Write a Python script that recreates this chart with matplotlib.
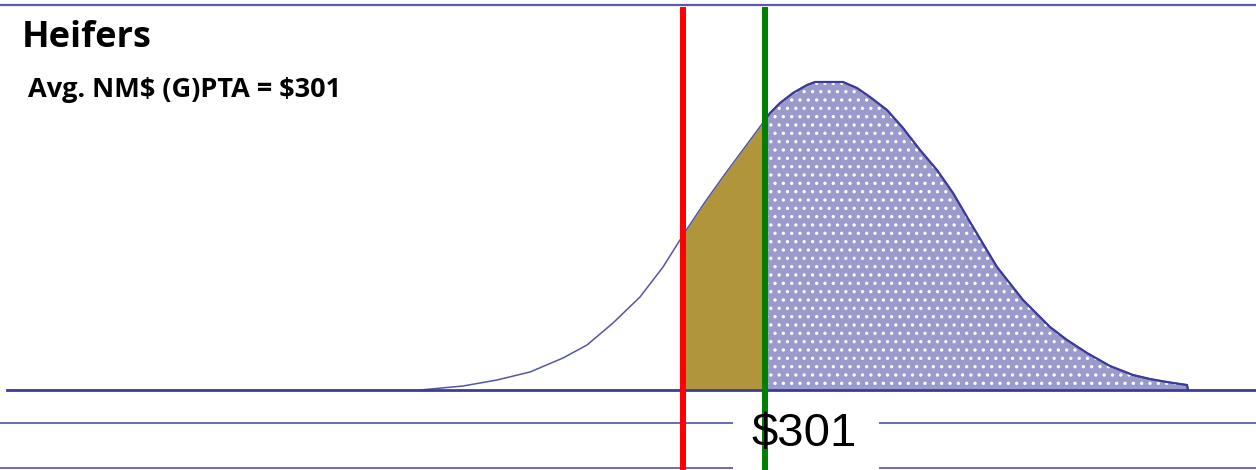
import numpy as np
import matplotlib.pyplot as plt
from matplotlib.patches import Rectangle

# NM$ (G)PTA values along the distribution and the curve height at each
nm_dollars = np.array([-44, -1, 33, 66, 99, 123, 149, 176, 199, 216, 219, 241,
                       261, 281, 301, 306, 316, 329, 343, 351, 379, 393, 406,
                       423, 439, 456, 473, 489, 506, 533, 559, 586, 603, 623,
                       646, 669, 686, 703, 723, 724])
density = np.array([0, 4, 10, 18, 32, 45, 67, 93, 123, 150, 155, 188,
                    216, 243, 270, 277, 287, 297, 305, 308, 308, 302, 293,
                    280, 262, 240, 220, 197, 168, 123, 90, 63, 50, 37,
                    24, 15, 11, 8, 5, 0])

avg_nm = 301      # herd average (green line)
cutoff_nm = 219   # cutoff (red line)
title = "Heifers"
subtitle = "Avg. NM$ (G)PTA = $" + str(avg_nm)

navy = "#3c3c96"
lav = "#9a9acd"
olive = "#b0953a"

plt.rcParams["hatch.color"] = "white"
plt.rcParams["hatch.linewidth"] = 1.2

fig = plt.figure(figsize=(12.56, 4.70), dpi=100)
ax = fig.add_axes([0, 0, 1, 1])
ax.set_xlim(-464, 792)
ax.set_ylim(-80, 390)
ax.axis("off")

# frame lines
ax.axhline(385, color="#5a5aa8", lw=1.6, zorder=1)
ax.plot([-457, 792], [0, 0], color=navy, lw=2.0, zorder=4)
ax.axhline(-33, color="#6a6ab0", lw=1.4, zorder=1)
ax.axhline(-78, color="#6a6ab0", lw=1.4, zorder=1)

# shaded regions under the curve
lo = (nm_dollars >= cutoff_nm) & (nm_dollars <= avg_nm)
hi = nm_dollars >= avg_nm
ax.fill_between(nm_dollars, 0, density, where=lo, color=olive, lw=0, zorder=2)
ax.fill_between(nm_dollars, 0, density, where=hi, facecolor=lav,
                edgecolor="white", hatch="..", lw=0, zorder=2)

# curve outline
ax.plot(nm_dollars, density, color="#5555a5", lw=1.1, zorder=3)
ax.plot(nm_dollars[hi], density[hi], color=navy, lw=1.6, zorder=3)

# cutoff and average
ax.plot([cutoff_nm, cutoff_nm], [-80, 380], color="#ff0000", lw=4.3, zorder=6)
ax.plot([avg_nm, avg_nm], [-80, 380], color="#008000", lw=4.3, zorder=6)

ax.add_patch(Rectangle((269, -80), 146, 77, facecolor="white", edgecolor="none", zorder=5))
ax.text(340, -44, "$" + str(avg_nm), fontsize=34, family="Liberation Sans",
        ha="center", va="center", zorder=7, parse_math=False)

ax.text(-442, 352, title, fontsize=26, fontweight="bold", family="Open Sans",
        ha="left", va="center")
ax.text(-436, 300, subtitle, fontsize=19.5, fontweight="bold", family="Open Sans",
        ha="left", va="center", parse_math=False)

fig.savefig("out.png", dpi=100)
